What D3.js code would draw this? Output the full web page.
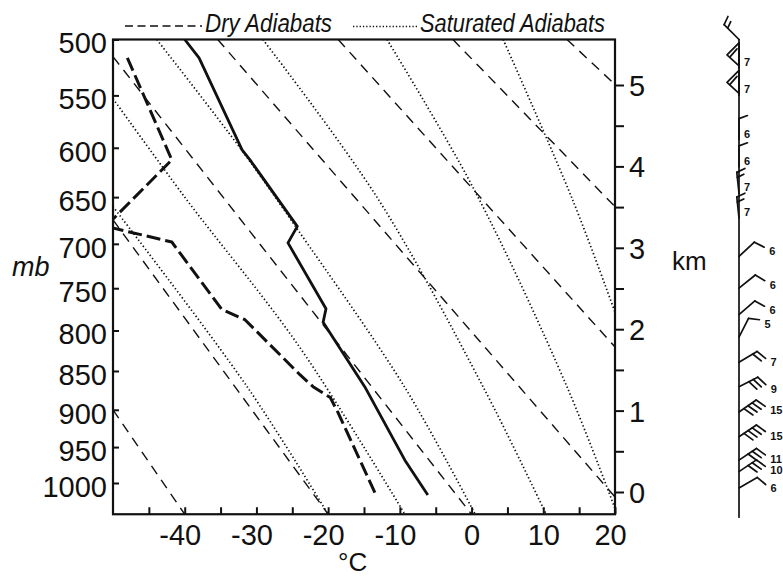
<!DOCTYPE html>
<html><head><meta charset="utf-8">
<script src="https://cdn.jsdelivr.net/npm/d3@7"></script>
<style>
html,body{margin:0;padding:0;background:#fff;}
svg{display:block;}
text{font-family:"Liberation Sans",Arial,sans-serif;fill:#111;}
</style></head><body>
<svg id="chart" width="783" height="577"></svg>
<script>
// ---------- DATA ----------
const pressureTicks = [500,550,600,650,700,750,800,850,900,950,1000];
const tempLabels = [-40,-30,-20,-10,0,10,20];
const tempMinorTicks = [-45,-40,-35,-30,-25,-20,-15,-10,-5,0,5,10,15,20];
const kmTicks = [0,0.5,1,1.5,2,2.5,3,3.5,4,4.5,5];
const kmLabels = [0,1,2,3,4,5];

// temperature sounding (°C) at pressure (mb)
const soundingP = [500, 516, 602, 612, 681, 699, 774, 790, 870, 968, 1017];
const soundingT = [-40.0, -38.0, -32.0, -30.9, -24.3, -25.6, -20.3, -20.7, -14.9, -9.3, -6.1];

// dew point sounding
const dewP = [516, 612, 681, 698, 775, 787, 855, 870, 884, 904, 1020];
const dewT = [-48.0, -41.8, -51.0, -41.8, -34.8, -31.6, -23.9, -22.1, -19.7, -18.6, -13.2];

// dry adiabats: [T, p] points
const dryAdiabats = [
  [[-50, 900], [-40, 1045]],
  [[-50, 674], [-20, 1045]],
  [[-50, 515], [0, 1045]],
  [[-35.4, 500], [20, 1020]],
  [[-18.6, 500], [20, 820]],
  [[-2.6, 500], [20, 660]],
  [[13.3, 500], [20, 540]]
];

// saturated adiabats: [T, p] points
const satAdiabats = [
  [[-50, 660], [-31.3, 870], [-20, 1045]],
  [[-50, 553], [-40, 650], [-24, 820], [-9.3, 1045]],
  [[-43.9, 500], [-32.3, 600], [-24.2, 685], [-9.3, 871], [0.5, 1045]],
  [[-29.1, 500], [-13.2, 650], [1.6, 870], [10.4, 1045]],
  [[-11.8, 500], [0.2, 640], [13.3, 870], [20.3, 1045]],
  [[4.4, 500], [14.1, 653], [20, 778]]
];

// wind profile
const windP = [500, 525, 550, 592, 619, 646, 672, 714, 750, 781, 808, 839, 870, 903, 936, 968, 984, 1007];
const windDir = [315, 0, 0, 0, 0, 354, 354, 47, 51, 49, 27, 59, 63, 55, 56, 56, 56, 60];
const windFeathers = [2, 0, 0, 1, 1, 2, 2, 1, 1, 1, 1, 2, 3, 4, 4, 3, 3, 1];
const windPennant = [0, 1, 1, 0, 0, 0, 0, 0, 0, 0, 0, 0, 0, 0, 0, 0, 0, 0];
const windLabels = ["", "7", "7", "6", "6", "7", "7", "6", "6", "6", "5", "7", "9", "15", "15", "11", "10", "6"];

// ---------- CHART ----------
const W = 783, H = 577, ink = "#111";
const svg = d3.select("#chart");
svg.append("rect").attr("width", W).attr("height", H).attr("fill", "#fff");

const x = d3.scaleLinear().domain([-50, 20]).range([113, 615]);
const y = d3.scalePow().exponent(0.286).domain([500, 1000]).range([39.5, 483]);
const pBottom = 1045;
const yTop = y(500), yBot = y(pBottom);
const km = d3.scaleLinear().domain([0, 5]).range([492, 85]);

svg.append("clipPath").attr("id", "pc").append("rect")
  .attr("x", x(-50)).attr("y", yTop).attr("width", x(20) - x(-50)).attr("height", yBot - yTop);

const plot = svg.append("g").attr("clip-path", "url(#pc)");
const straight = d3.line().x(d => x(d[0])).y(d => y(d[1]));
const smooth = d3.line().x(d => x(d[0])).y(d => y(d[1])).curve(d3.curveCatmullRom.alpha(0.5));

dryAdiabats.forEach(pts => plot.append("path").attr("d", straight(pts))
  .attr("fill", "none").attr("stroke", ink).attr("stroke-width", 1.4).attr("stroke-dasharray", "10,7"));
satAdiabats.forEach(pts => plot.append("path").attr("d", smooth(pts))
  .attr("fill", "none").attr("stroke", ink).attr("stroke-width", 1.7).attr("stroke-dasharray", "1.4,2.4"));

plot.append("path").attr("d", straight(d3.zip(dewT, dewP)))
  .attr("fill", "none").attr("stroke", ink).attr("stroke-width", 3)
  .attr("stroke-dasharray", "14,5").attr("stroke-linejoin", "round");
plot.append("path").attr("d", straight(d3.zip(soundingT, soundingP)))
  .attr("fill", "none").attr("stroke", ink).attr("stroke-width", 2.8).attr("stroke-linejoin", "round");

// frame
svg.append("rect").attr("x", x(-50)).attr("y", yTop).attr("width", x(20) - x(-50)).attr("height", yBot - yTop)
  .attr("fill", "none").attr("stroke", ink).attr("stroke-width", 2.2);

// left axis
const ax = svg.append("g").attr("transform", `translate(${x(-50)},0)`)
  .call(d3.axisLeft(y).tickValues(pressureTicks).tickSize(-6).tickSizeOuter(0).tickPadding(6).tickFormat(d => d));
ax.select(".domain").remove();
ax.selectAll(".tick line").attr("stroke", ink).attr("stroke-width", 2);
ax.selectAll(".tick text").attr("font-size", 29).attr("fill", ink).attr("dy", "0.46em")
  .attr("font-family", "Liberation Sans, Arial, sans-serif");

// bottom axis
const bx = svg.append("g").attr("transform", `translate(0,${yBot})`)
  .call(d3.axisBottom(x).tickValues(tempMinorTicks).tickSize(-7).tickSizeOuter(0).tickPadding(0)
    .tickFormat(d => tempLabels.includes(d) ? String(d) : ""));
bx.select(".domain").remove();
bx.selectAll(".tick line").attr("stroke", ink).attr("stroke-width", 2);
bx.selectAll(".tick text").attr("font-size", 29).attr("fill", ink)
  .attr("font-family", "Liberation Sans, Arial, sans-serif")
  .attr("y", 31).attr("dy", 0)
  .attr("dx", d => d < 0 ? -5 : (d === 20 ? -5 : 0));

// right km axis
const rx = svg.append("g").attr("transform", `translate(${x(20) + 1},0)`)
  .call(d3.axisRight(km).tickValues(kmTicks).tickSize(8).tickSizeOuter(0).tickPadding(5)
    .tickFormat(d => kmLabels.includes(d) ? String(d) : ""));
rx.select(".domain").remove();
rx.selectAll(".tick line").attr("stroke", ink).attr("stroke-width", 2);
rx.selectAll(".tick text").attr("font-size", 29).attr("fill", ink).attr("dy", "0.36em")
  .attr("font-family", "Liberation Sans, Arial, sans-serif");

// axis titles
svg.append("text").attr("x", 12).attr("y", 276).attr("font-size", 27).attr("font-style", "italic").text("mb");
svg.append("text").attr("x", 672).attr("y", 270).attr("font-size", 26).text("km");
svg.append("text").attr("x", 338).attr("y", 571).attr("font-size", 26).text("°C");

// legend
svg.append("line").attr("x1", 125).attr("x2", 202).attr("y1", 26).attr("y2", 26)
  .attr("stroke", ink).attr("stroke-width", 1.5).attr("stroke-dasharray", "8,4.5");
svg.append("text").attr("x", 205).attr("y", 32).attr("font-size", 25).attr("font-style", "italic")
  .attr("textLength", 127).attr("lengthAdjust", "spacingAndGlyphs").text("Dry Adiabats");
svg.append("line").attr("x1", 353).attr("x2", 417).attr("y1", 26.5).attr("y2", 26.5)
  .attr("stroke", ink).attr("stroke-width", 1.4).attr("stroke-dasharray", "1.3,2");
svg.append("text").attr("x", 420).attr("y", 32).attr("font-size", 25).attr("font-style", "italic")
  .attr("textLength", 185).attr("lengthAdjust", "spacingAndGlyphs").text("Saturated Adiabats");

// wind profile
const staffX = 739;
const wg = svg.append("g").attr("stroke", ink).attr("stroke-width", 1.7).attr("fill", "none")
  .attr("stroke-linecap", "round").attr("stroke-linejoin", "round");
wg.append("line").attr("x1", staffX).attr("x2", staffX).attr("y1", y(windP[0])).attr("y2", yBot + 3);
const rad = Math.PI / 180;
windP.forEach((p, i) => {
  const b = [staffX, y(p)];
  const a = windDir[i] * rad;
  const ux = Math.sin(a), uy = -Math.cos(a);
  const upper = windDir[i] === 0 || windDir[i] > 300;
  const L = windPennant[i] ? 25 : 21;
  const tip = [b[0] + ux * L, b[1] + uy * L];
  wg.append("line").attr("x1", b[0]).attr("y1", b[1]).attr("x2", tip[0]).attr("y2", tip[1]);
  const fa = a + 70 * rad;
  const fx = Math.sin(fa), fy = -Math.cos(fa);
  const fl = upper ? 9 : 11;
  let firstEnd = [tip[0] + fx * fl, tip[1] + fy * fl];
  for (let k = 0; k < windFeathers[i]; k++) {
    const s = [tip[0] - ux * 5 * k, tip[1] - uy * 5 * k];
    const len = (upper && k > 0) ? fl * 0.8 : fl;
    wg.append("line").attr("x1", s[0]).attr("y1", s[1]).attr("x2", s[0] + fx * len).attr("y2", s[1] + fy * len);
  }
  if (windPennant[i]) {
    const tri = [tip, [tip[0] - 12, tip[1] - uy * 12], [tip[0] - ux * 23, tip[1] - uy * 23]];
    wg.append("path").attr("d", d3.line()(tri) + "Z");
    wg.append("line").attr("x1", tri[1][0] + 3).attr("y1", tri[1][1] + 2)
      .attr("x2", tip[0] - 2).attr("y2", tip[1] + 6);
    firstEnd = tip;
  }
  if (windLabels[i]) {
    const t = svg.append("text").attr("font-family", "DejaVu Sans, sans-serif").attr("font-weight", "bold")
      .attr("font-size", 11).text(windLabels[i]);
    if (upper) {
      t.attr("x", staffX + 5).attr("y", b[1] - 2);
    } else {
      t.attr("x", firstEnd[0] + 5).attr("y", firstEnd[1] + 8);
    }
  }
});
</script>
</body></html>
